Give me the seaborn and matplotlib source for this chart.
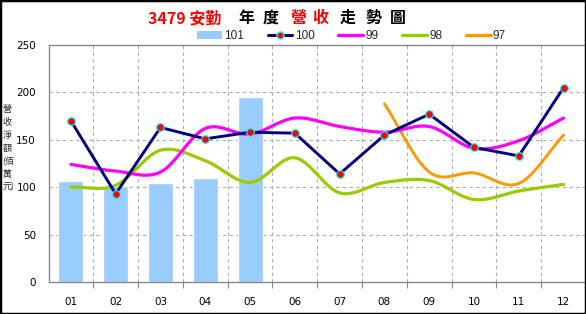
import numpy as np
import pandas as pd
import matplotlib
matplotlib.use("Agg")
import matplotlib.pyplot as plt
import seaborn as sns
from matplotlib.patches import Patch, Rectangle
from matplotlib.lines import Line2D

months = ["01", "02", "03", "04", "05", "06", "07", "08", "09", "10", "11", "12"]
rev_101 = [107, 101, 104, 110, 195, None, None, None, None, None, None, None]
rev_100 = [170, 93, 163, 151, 158, 157, 114, 155, 177, 142, 133, 205]
rev_99 = [124, 117, 116, 162, 156, 173, 164, 158, 164, 141, 149, 173]
rev_98 = [100, 102, 139, 128, 105, 131, 94, 105, 107, 87, 96, 103]
rev_97 = [None, None, None, None, None, None, None, 188, 116, 115, 104, 155]
yticks = [0, 50, 100, 150, 200, 250]
ylabel_chars = ["營", "收", "淨", "額", "(佰", "萬", "元)"]

sns.set_theme(style="white")
plt.rcParams['font.family'] = ['Noto Sans CJK TC', 'DejaVu Sans']

W, H = 586, 314
fig = plt.figure(figsize=(W / 100, H / 100), dpi=100)
ax = fig.add_axes([48.5 / W, (H - 282) / H, (586 - 48.5) / W, (282 - 45) / H])


def smooth(vals, n=24):
    xs = [i for i, v in enumerate(vals) if v is not None]
    ys = [vals[i] for i in xs]
    px, py = np.array(xs, float), np.array(ys, float)
    P = np.column_stack([px, py])
    P = np.vstack([P[0] * 2 - P[1], P, P[-1] * 2 - P[-2]])
    out = []
    for i in range(1, len(P) - 2):
        p0, p1, p2, p3 = P[i - 1], P[i], P[i + 1], P[i + 2]
        t = np.linspace(0, 1, n, endpoint=(i == len(P) - 3))[:, None]
        seg = 0.5 * ((2 * p1) + (-p0 + p2) * t + (2 * p0 - 5 * p1 + 4 * p2 - p3) * t ** 2
                     + (-p0 + 3 * p1 - 3 * p2 + p3) * t ** 3)
        out.append(seg)
    out = np.vstack(out)
    return pd.DataFrame({"x": out[:, 0], "y": out[:, 1]})


bar_df = pd.DataFrame({"m": months, "v": [np.nan if v is None else v for v in rev_101]})
sns.barplot(data=bar_df, x="m", y="v", order=months, color="#99CCFF", saturation=1,
            width=0.56, ax=ax, zorder=2)

sns.lineplot(data=smooth(rev_98), x="x", y="y", color="#99CC00", lw=2.3, sort=False, ax=ax, zorder=3)
sns.lineplot(data=smooth(rev_97), x="x", y="y", color="#FF9900", lw=2.1, sort=False, ax=ax, zorder=3)
sns.lineplot(data=smooth(rev_99), x="x", y="y", color="#FF00FF", lw=2.3, sort=False, ax=ax, zorder=4)
df100 = pd.DataFrame({"x": np.arange(12), "y": rev_100})
sns.lineplot(data=df100, x="x", y="y", color="#000080", lw=2.1, marker="o", markersize=5.5,
             markerfacecolor="#FF0000", markeredgecolor="#00FFFF", markeredgewidth=0.8,
             sort=False, ax=ax, zorder=5)

ax.set_xlim(-0.5, 11.5)
ax.set_ylim(0, 250)
ax.set_yticks(yticks)
ax.set_yticklabels([str(v) for v in yticks], family=['DejaVu Sans'], fontsize=7.5)
ax.set_xticks(range(12))
ax.set_xticklabels(months, family=['DejaVu Sans'], fontsize=7.5)
ax.set_xticks(np.arange(0.5, 11.5, 1), minor=True)
ax.tick_params(axis="x", which="major", length=0, pad=11, colors="black")
ax.tick_params(axis="x", which="minor", length=4, width=0.8, color="#888888", bottom=True)
ax.tick_params(axis="y", length=0, pad=9, colors="black")
ax.set_xlabel("")
ax.set_ylabel("")
ax.grid(False)
for v in yticks[1:-1]:
    ax.axhline(v, color="#AAAAAA", lw=0.8, ls=(0, (3, 3)), zorder=1)
for b in np.arange(0.5, 11.5, 1):
    ax.axvline(b, color="#AAAAAA", lw=0.8, ls=(0, (3, 3)), zorder=1)
for s in ["left", "bottom", "top"]:
    ax.spines[s].set_color("#888888")
    ax.spines[s].set_linewidth(1.0)
ax.spines["right"].set_visible(False)
if ax.get_legend():
    ax.get_legend().remove()

# title
tparts = [("3479 安勤", 148, "#FF0000"), ("年", 238, "black"), ("度", 263, "black"),
          ("營", 290, "#FF0000"), ("收", 312, "#FF0000"), ("走", 340, "black"),
          ("勢", 365, "black"), ("圖", 390, "black")]
for txt, x, c in tparts:
    fig.text(x / W, 1 - 18 / H, txt, color=c, fontsize=11.5, fontweight="bold",
             ha="left", va="center", family=['Noto Sans CJK TC', 'DejaVu Sans'])

# y label, stacked characters
for i, ch in enumerate(ylabel_chars):
    fig.text(2.5 / W, 1 - (110 + i * 12.8) / H, ch, fontsize=6.5, ha="left",
             va="center", family=['Noto Sans CJK TC', 'DejaVu Sans'])

handles = [Patch(facecolor="#99CCFF", edgecolor="none"),
           Line2D([], [], color="#000080", lw=2.2, marker="o", markersize=5,
                  markerfacecolor="#FF0000", markeredgecolor="#00FFFF"),
           Line2D([], [], color="#FF00FF", lw=2.4),
           Line2D([], [], color="#99CC00", lw=2.4),
           Line2D([], [], color="#FF9900", lw=2.4)]
fig.legend(handles, ["101", "100", "99", "98", "97"], loc="center left", ncol=5,
           bbox_to_anchor=(197 / W, 1 - 36 / H), frameon=False,
           handlelength=2.1, handletextpad=0.2, columnspacing=2.0, borderpad=0,
           borderaxespad=0, prop={"family": ['Liberation Sans'], "size": 8.5})

fig.patches.append(Rectangle((0, 0), 1, 1, transform=fig.transFigure, fill=False,
                             edgecolor="black", lw=2.5, zorder=10))

fig.savefig("out.png", dpi=100)
